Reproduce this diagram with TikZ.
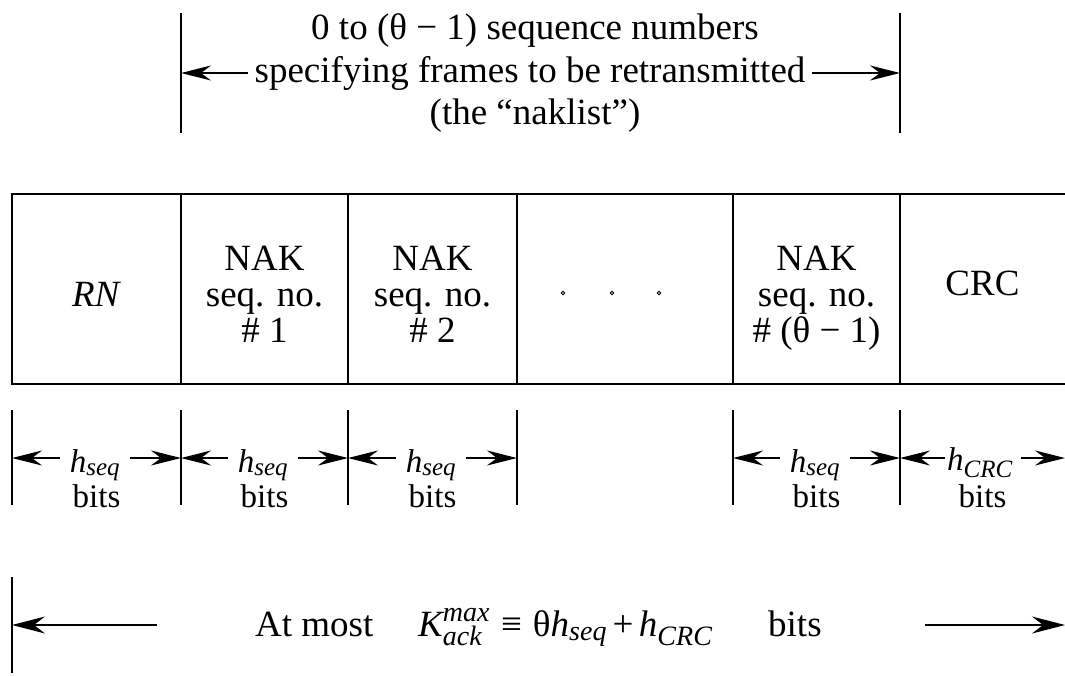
\documentclass[tikz,border=0pt]{standalone}
\usepackage{fontspec}
\setmainfont{Liberation Serif}
\usepackage{amsmath}
\DeclareMathSizes{37}{37}{28}{22}
\DeclareMathSizes{33}{33}{25}{20}
\usetikzlibrary{arrows.meta}
\tikzset{
  txt/.style={font=\fontsize{37}{40}\selectfont, inner sep=0pt},
  sml/.style={font=\fontsize{33}{34}\selectfont, inner sep=0pt},
  frameline/.style={line width=2pt},
  tickline/.style={line width=1.2pt},
  dimarrow/.style={line width=1.3pt, -{Stealth[length=30pt,width=15pt,inset=10pt]}},
  longarrow/.style={line width=1.3pt, -{Stealth[length=33pt,width=17pt,inset=11pt]}},
  dotmark/.style={circle, draw, line width=0.8pt, inner sep=0pt, minimum size=3.4pt}
}
\begin{document}
\begin{tikzpicture}[x=1pt,y=-1pt]
\useasboundingbox (0,0) rectangle (1065,675);

% ---- naklist span above the frame ----
\coordinate (tl0) at (181,13);  \coordinate (tl1) at (181,133);
\coordinate (tr0) at (900,13);  \coordinate (tr1) at (900,133);
\coordinate (tlA) at (181,73);  \coordinate (trA) at (900,73);
\draw[tickline] (tl0) -- (tl1);
\draw[tickline] (tr0) -- (tr1);
\node[txt, anchor=base] (top1) at (535,39) {0 to (θ − 1) sequence numbers};
\node[txt, anchor=base, inner xsep=6pt] (top2) at (530,82) {specifying frames to be retransmitted};
\node[txt, anchor=base] (top3) at (535,124) {(the “naklist”)};
\draw[dimarrow] (top2.west |- tlA) -- (tlA);
\draw[dimarrow] (top2.east |- trA) -- (trA);

% ---- frame fields ----
\draw[frameline] (1065,194) -- (12,194) -- (12,384) -- (1065,384);
\foreach \x in {181,348,517,733,900}
  \draw[frameline] (\x,194) -- (\x,384);

\node[txt, anchor=base] (rn) at (96.5,306) {\textit{RN}};

\node[txt, anchor=base] (nak1a) at (264.5,270) {NAK};
\node[txt, anchor=base] (nak1b) at (264.5,306) {seq. no.};
\node[txt, anchor=base] (nak1c) at (264.5,342) {\# 1};

\node[txt, anchor=base] (nak2a) at (432.5,270) {NAK};
\node[txt, anchor=base] (nak2b) at (432.5,306) {seq. no.};
\node[txt, anchor=base] (nak2c) at (432.5,342) {\# 2};

\node[dotmark] (dot1) at (563,293) {};
\node[dotmark] (dot2) at (612,293) {};
\node[dotmark] (dot3) at (659,293) {};

\node[txt, anchor=base] (nak3a) at (816.5,270) {NAK};
\node[txt, anchor=base] (nak3b) at (816.5,306) {seq. no.};
\node[txt, anchor=base] (nak3c) at (816.5,342) {\# (θ − 1)};

\node[txt, anchor=base] (crc) at (982.5,295) {CRC};

% ---- field widths ----
\foreach \x [count=\i] in {12,181,348,517,733,900} {
  \draw[tickline] (\x,410) -- (\x,505);
  \coordinate (b\i) at (\x,458);
}
\coordinate (bend) at (1065,458);

\foreach \cx/\i in {95/1,263/2,431/3,815/5} {
  \node[sml, anchor=base, inner xsep=10pt] (hs\i) at (\cx,472) {$\textit{h}_{\textit{seq}}$};
  \node[sml, anchor=base] (bits\i) at (\cx+1.5,507) {bits};
}
\draw[dimarrow] (hs1.west |- b1) -- (b1);
\draw[dimarrow] (hs1.east |- b2) -- (b2);
\draw[dimarrow] (hs2.west |- b2) -- (b2);
\draw[dimarrow] (hs2.east |- b3) -- (b3);
\draw[dimarrow] (hs3.west |- b3) -- (b3);
\draw[dimarrow] (hs3.east |- b4) -- (b4);
\draw[dimarrow] (hs5.west |- b5) -- (b5);
\draw[dimarrow] (hs5.east |- b6) -- (b6);

\node[sml, anchor=base, inner xsep=2pt] (hc) at (980,470) {$\textit{h}_{\textit{CRC}}$};
\node[sml, anchor=base] (bits6) at (982.5,507) {bits};
\draw[dimarrow] (hc.west |- b6) -- (b6);
\draw[dimarrow] (hc.east |- bend) ++(6,0) -- (bend);

% ---- total length ----
\coordinate (k0) at (12,625);
\coordinate (kend) at (1065,625);
\coordinate (ka) at (157,625);
\coordinate (kb) at (925,625);
\draw[tickline] (12,577) -- (12,673);
\node[txt, anchor=base west] (atmost) at (255,636) {At most};
\node[txt, anchor=base west] (kmax) at (418,636)
  {$\textit{K}^{\textit{max}}_{\textit{ack}}\mathrel{\,\text{≡}\,}\text{θ}\textit{h}_{\textit{seq}}\mathbin{\text{+}}\textit{h}_{\textit{CRC}}$};
\node[txt, anchor=base west] (kbits) at (768,636) {bits};
\draw[longarrow] (ka) -- (k0);
\draw[longarrow] (kb) -- (kend);
\end{tikzpicture}
\end{document}
